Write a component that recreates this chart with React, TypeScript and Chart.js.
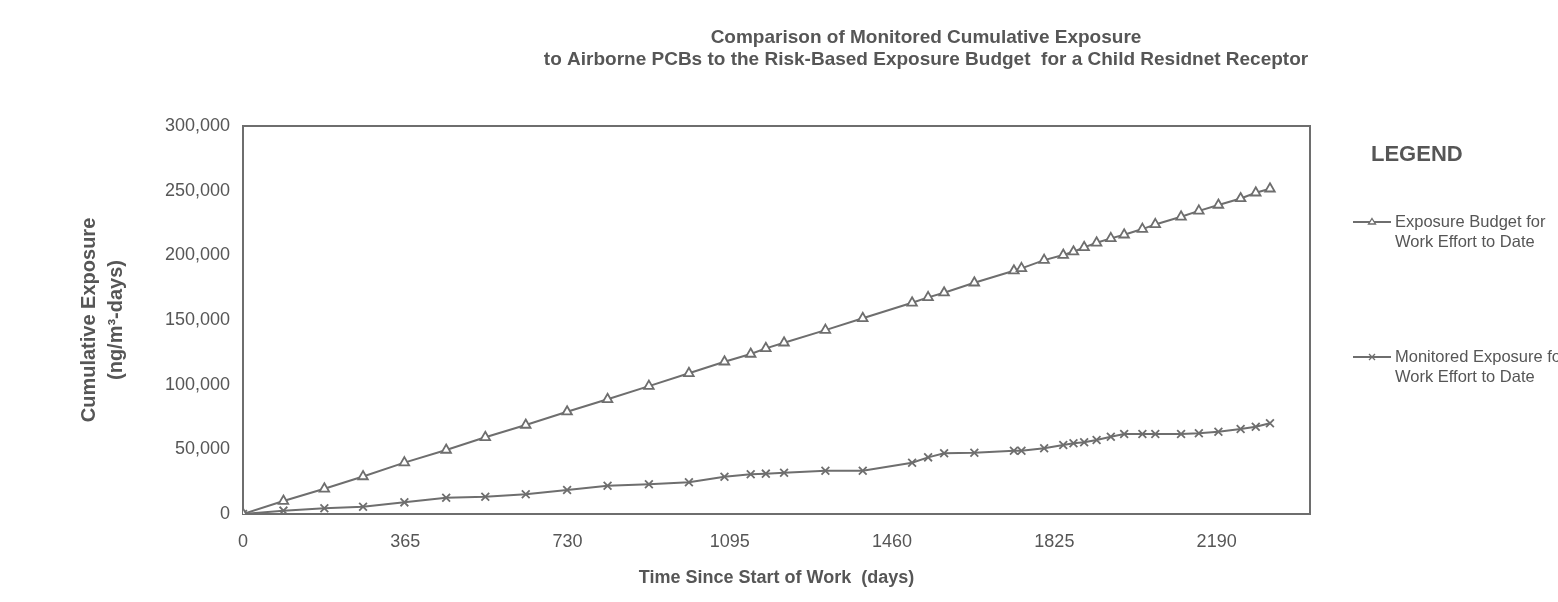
import React, { useEffect, useRef } from 'react';
import { Chart, registerables } from 'chart.js';

Chart.register(...registerables);

// ---- data ----
const days = [0, 91, 183, 270, 363, 457, 545, 636, 729, 820, 913, 1003, 1083, 1142, 1176, 1217, 1310, 1394, 1505, 1541, 1577, 1645, 1734, 1751, 1802, 1845, 1868, 1892, 1920, 1952, 1982, 2023, 2052, 2110, 2150, 2194, 2244, 2278, 2310];
const budget = [0, 10000, 19500, 29000, 39700, 49500, 59300, 68800, 79100, 88700, 98900, 108800, 117700, 123700, 128100, 132400, 142200, 151300, 163300, 167500, 171100, 178800, 188100, 189900, 196300, 200200, 202800, 206200, 209700, 213100, 215900, 220300, 223900, 229800, 234400, 238900, 244000, 248400, 251500];
const monitored = [0, 2600, 4400, 5600, 9000, 12600, 13400, 15200, 18600, 21800, 23000, 24500, 28800, 30700, 31200, 31900, 33500, 33500, 39700, 43800, 46900, 47400, 48900, 48900, 50800, 53300, 54700, 55400, 57200, 59800, 61800, 61800, 61800, 61800, 62400, 63600, 65700, 67500, 70100];
const xTicks = [0, 365, 730, 1095, 1460, 1825, 2190];
const xMax = 2400;
const yMax = 300000;
const yStep = 50000;
const titleLines = [
  'Comparison of Monitored Cumulative Exposure',
  'to Airborne PCBs to the Risk-Based Exposure Budget  for a Child Residnet Receptor',
];
const seriesNames = [
  ['Exposure Budget for', 'Work Effort to Date'],
  ['Monitored Exposure for', 'Work Effort to Date'],
];
const yAxisTitle = ['Cumulative Exposure', '(ng/m\u00B3-days)'];
const xAxisTitle = 'Time Since Start of Work  (days)';

const LINE = '#6e6e6e';
const TEXT = '#565656';
const FONT = '"Liberation Sans", Arial, sans-serif';

const overlay = {
  id: 'overlay',
  beforeDatasetsDraw(chart: any) {
    const { ctx, chartArea: a } = chart;
    ctx.save();
    ctx.strokeStyle = LINE;
    ctx.lineWidth = 2;
    ctx.strokeRect(a.left, a.top, a.right - a.left, a.bottom - a.top);
    ctx.restore();
  },
  afterDraw(chart: any) {
    const { ctx } = chart;
    ctx.save();
    ctx.fillStyle = TEXT;
    ctx.textAlign = 'center';
    ctx.textBaseline = 'middle';
    ctx.font = `bold 19px ${FONT}`;
    ctx.fillText(titleLines[0], 926, 38);
    ctx.fillText(titleLines[1], 926, 60);

    ctx.font = `bold 22px ${FONT}`;
    ctx.textAlign = 'left';
    ctx.fillText('LEGEND', 1371, 155);

    const ys = [222, 357];
    ctx.font = `16.5px ${FONT}`;
    seriesNames.forEach((lines, i) => {
      const y = ys[i];
      ctx.strokeStyle = LINE;
      ctx.lineWidth = 2;
      ctx.beginPath();
      ctx.moveTo(1353, y);
      ctx.lineTo(1391, y);
      ctx.stroke();
      const cx = 1372;
      ctx.lineWidth = 1.3;
      ctx.beginPath();
      if (i === 0) {
        ctx.moveTo(cx, y - 3.5);
        ctx.lineTo(cx + 3.5, y + 2);
        ctx.lineTo(cx - 3.5, y + 2);
        ctx.closePath();
        ctx.fillStyle = '#fff';
        ctx.fill();
        ctx.stroke();
      } else {
        ctx.moveTo(cx - 3, y - 3);
        ctx.lineTo(cx + 3, y + 3);
        ctx.moveTo(cx + 3, y - 3);
        ctx.lineTo(cx - 3, y + 3);
        ctx.stroke();
      }
      ctx.fillStyle = TEXT;
      ctx.fillText(lines[0], 1395, y);
      ctx.fillText(lines[1], 1395, y + 20);
    });
    ctx.restore();
  },
};

export default function App() {
  const ref = useRef<HTMLCanvasElement>(null);
  useEffect(() => {
    if (!ref.current) return;
    const chart = new Chart(ref.current, {
      type: 'line',
      data: {
        datasets: [
          {
            label: seriesNames[0].join(' '),
            data: days.map((d, i) => ({ x: d, y: budget[i] })),
            borderColor: LINE,
            borderWidth: 2,
            pointStyle: 'triangle',
            pointRadius: 5.5,
            pointBackgroundColor: '#fff',
            pointBorderColor: LINE,
            pointBorderWidth: 1.8,
            tension: 0,
          },
          {
            label: seriesNames[1].join(' '),
            data: days.map((d, i) => ({ x: d, y: monitored[i] })),
            borderColor: LINE,
            borderWidth: 2,
            pointStyle: 'crossRot',
            pointRadius: 5.5,
            pointBorderColor: LINE,
            pointBorderWidth: 1.8,
            tension: 0,
          },
        ],
      },
      options: {
        responsive: false,
        animation: false,
        devicePixelRatio: 1,
        layout: { padding: { left: 72, right: 248, top: 126, bottom: 6 } },
        plugins: { legend: { display: false }, title: { display: false }, tooltip: { enabled: false } },
        scales: {
          x: {
            type: 'linear',
            min: 0,
            max: xMax,
            afterBuildTicks: (s: any) => { s.ticks = xTicks.map((v) => ({ value: v })); },
            afterFit: (s: any) => { s.height = 82; },
            grid: { display: false, drawTicks: false },
            border: { display: false },
            ticks: {
              padding: 17,
              color: TEXT,
              font: { family: FONT, size: 18 },
              maxRotation: 0,
              autoSkip: false,
              callback: (v: any) => String(v),
            },
            title: {
              display: true,
              text: xAxisTitle,
              color: TEXT,
              font: { family: FONT, size: 18, weight: 'bold' },
              padding: { top: 0, bottom: 7 },
            },
          },
          y: {
            min: 0,
            max: yMax,
            afterFit: (s: any) => { s.width = 171; },
            grid: { display: false, drawTicks: false },
            border: { display: false },
            ticks: {
              stepSize: yStep,
              padding: 13,
              color: TEXT,
              font: { family: FONT, size: 18 },
              callback: (v: any) => Number(v).toLocaleString('en-US'),
            },
            title: {
              display: true,
              text: yAxisTitle,
              color: TEXT,
              font: { family: FONT, size: 20, weight: 'bold', lineHeight: 1.35 },
              padding: 4,
            },
          },
        },
      },
      plugins: [overlay],
    } as any);
    return () => chart.destroy();
  }, []);
  return (
    <div style={{ position: 'absolute', left: 0, top: 0, width: 1558, height: 602, background: '#fff' }}>
      <canvas ref={ref} width={1558} height={602} style={{ display: 'block', width: 1558, height: 602 }} />
    </div>
  );
}
